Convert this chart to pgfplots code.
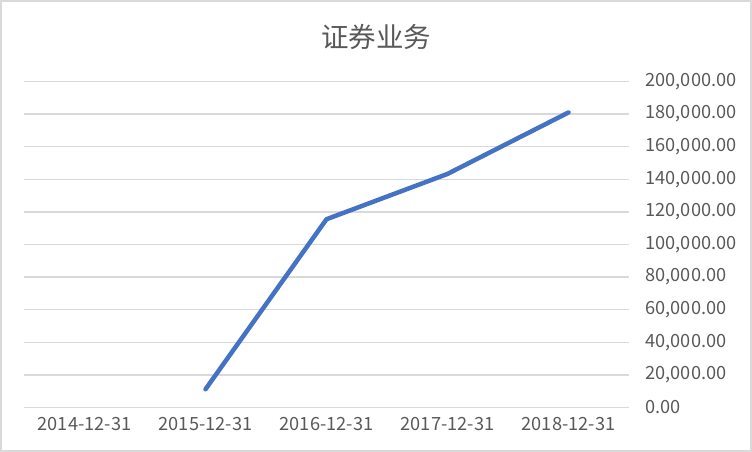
\documentclass[border=0pt]{standalone}
\usepackage{pgfplots}
\pgfplotsset{compat=1.18}
\usepackage{fontspec}
\setmainfont{Noto Sans CJK SC}
\definecolor{linecol}{HTML}{4472C4}
\definecolor{gridcol}{HTML}{D9D9D9}
\definecolor{textcol}{HTML}{595959}
\begin{document}
\begin{tikzpicture}
\useasboundingbox (0,0) rectangle (752pt,452pt);
\draw[gridcol, line width=2pt] (1pt,1pt) rectangle (751pt,451pt);
\node[text=textcol, font=\fontsize{27.5}{32}\selectfont] at (376pt,415pt) {证券业务};
\begin{axis}[
    at={(24pt,44.5pt)}, anchor=south west,
    scale only axis,
    width=605pt, height=326pt,
    xmin=-0.5, xmax=4.5,
    ymin=0, ymax=200000,
    xtick={0,1,2,3,4},
    xticklabels={2014-12-31,2015-12-31,2016-12-31,2017-12-31,2018-12-31},
    ytick={0,20000,...,200000},
    scaled y ticks=false,
    yticklabel pos=right,
    axis line style={draw=none},
    major tick length=0pt,
    ymajorgrids,
    grid style={gridcol, line width=1.4pt},
    tick label style={text=textcol, font=\fontsize{18.2}{21}\selectfont},
    yticklabel style={anchor=west, xshift=13pt,
        /pgf/number format/.cd, fixed, fixed zerofill, precision=2, 1000 sep={,}, assume math mode=true},
    xticklabel style={yshift=-6pt},
    clip=false,
]
\addplot[linecol, line width=4.5pt, line join=round, line cap=round] coordinates {
    (1,11200) (2,115500) (3,143300) (4,181000)
};
\end{axis}
\end{tikzpicture}
\end{document}
